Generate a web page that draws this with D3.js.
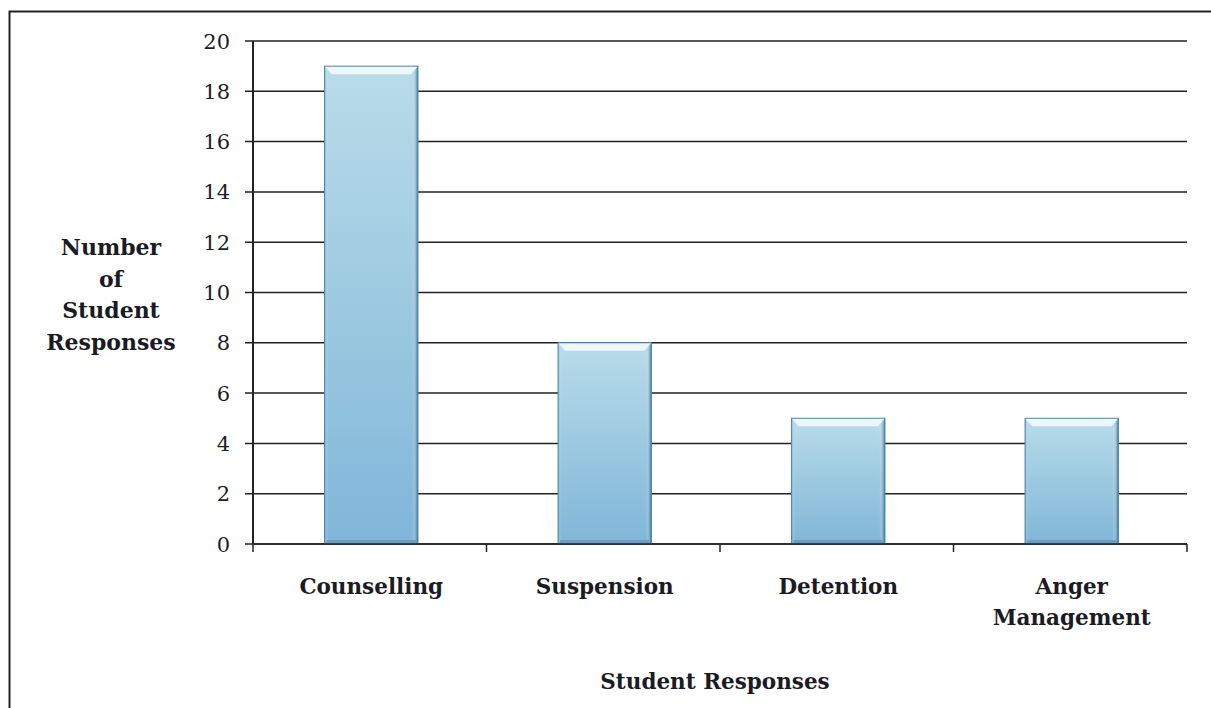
<!DOCTYPE html>
<html>
<head>
<meta charset="utf-8">
<script src="https://cdn.jsdelivr.net/npm/d3@7"></script>
<style>
    body { margin: 0; background: #fff; }
    svg { display: block; }
</style>
</head>
<body>
<div id="chart"></div>
<script>
const categories = ["Counselling", "Suspension", "Detention", "Anger Management"];
const responses = [19, 8, 5, 5];
const yTicks = [0, 2, 4, 6, 8, 10, 12, 14, 16, 18, 20];

const width = 1211;
const height = 708;
const margin = { top: 41, right: 24, bottom: 164, left: 253 };
const serif = "'DejaVu Serif', 'Liberation Serif', serif";

const svg = d3.select("#chart")
    .append("svg")
    .attr("width", width)
    .attr("height", height)
    .attr("viewBox", [0, 0, width, height]);

// frame on the top and left only, like the scanned page
svg.append("path")
    .attr("d", `M9.5,${height} V11.5 H${width}`)
    .attr("fill", "none")
    .attr("stroke", "#222")
    .attr("stroke-width", 2);

let x = d3.scaleBand()
    .domain(categories)
    .range([margin.left, width - margin.right])
    .paddingInner(0.6)
    .paddingOuter(0.3);

let y = d3.scaleLinear()
    .domain([0, 20])
    .range([height - margin.bottom, margin.top]);

const defs = svg.append("defs");
const grad = defs.append("linearGradient")
    .attr("id", "barFill")
    .attr("x1", 0).attr("y1", 0).attr("x2", 0).attr("y2", 1);
grad.append("stop").attr("offset", "0%").attr("stop-color", "#b9dce9");
grad.append("stop").attr("offset", "100%").attr("stop-color", "#80b6d8");

const sideGrad = defs.append("linearGradient")
    .attr("id", "barSide")
    .attr("x1", 0).attr("y1", 0).attr("x2", 1).attr("y2", 0);
sideGrad.append("stop").attr("offset", "0%").attr("stop-color", "#5d9cc4").attr("stop-opacity", 0.5);
sideGrad.append("stop").attr("offset", "4%").attr("stop-color", "#ffffff").attr("stop-opacity", 0);
sideGrad.append("stop").attr("offset", "94%").attr("stop-color", "#ffffff").attr("stop-opacity", 0);
sideGrad.append("stop").attr("offset", "100%").attr("stop-color", "#2c6690").attr("stop-opacity", 0.9);

// horizontal gridlines with small outward ticks
svg.append("g")
    .selectAll("line")
    .data(yTicks)
    .join("line")
    .attr("x1", margin.left - 8)
    .attr("x2", width - margin.right)
    .attr("y1", d => y(d))
    .attr("y2", d => y(d))
    .attr("stroke", "#222")
    .attr("stroke-width", 1.5);

// y axis line
svg.append("line")
    .attr("x1", margin.left)
    .attr("x2", margin.left)
    .attr("y1", y(20))
    .attr("y2", y(0))
    .attr("stroke", "#222")
    .attr("stroke-width", 2);

// tick labels
svg.append("g")
    .selectAll("text")
    .data(yTicks)
    .join("text")
    .attr("x", margin.left - 23)
    .attr("y", d => y(d))
    .attr("dy", "0.36em")
    .attr("text-anchor", "end")
    .attr("font-family", serif)
    .attr("font-size", 21)
    .attr("fill", "#1e1e24")
    .text(d => d);

// category boundary ticks below the x axis
let bounds = categories.map(c => x(c) - x.step() * x.paddingInner() / 2);
bounds.push(width - margin.right);
svg.append("g")
    .selectAll("line")
    .data(bounds)
    .join("line")
    .attr("x1", d => d)
    .attr("x2", d => d)
    .attr("y1", y(0))
    .attr("y2", y(0) + 8)
    .attr("stroke", "#222")
    .attr("stroke-width", 1.5);

// bars
const bars = svg.append("g")
    .attr("transform", "translate(1.5,0)")
    .selectAll("g")
    .data(categories.map((c, i) => ({ c, v: responses[i] })))
    .join("g");

bars.append("rect")
    .attr("x", d => x(d.c))
    .attr("y", d => y(d.v))
    .attr("width", x.bandwidth())
    .attr("height", d => y(0) - y(d.v))
    .attr("fill", "url(#barFill)");

bars.append("rect")
    .attr("x", d => x(d.c))
    .attr("y", d => y(d.v))
    .attr("width", x.bandwidth())
    .attr("height", d => y(0) - y(d.v))
    .attr("fill", "url(#barSide)");

// bevel highlight on the top of each bar
bars.append("path")
    .attr("d", d => {
        let x0 = x(d.c), x1 = x0 + x.bandwidth(), t = y(d.v);
        return `M${x0},${t} H${x1} L${x1 - 7},${t + 8} H${x0 + 7} Z`;
    })
    .attr("fill", "#eef7fb");

// darker bottom band
bars.append("rect")
    .attr("x", d => x(d.c) + 2)
    .attr("y", y(0) - 4)
    .attr("width", x.bandwidth() - 4)
    .attr("height", 4)
    .attr("fill", "#6a9fc2");

bars.append("rect")
    .attr("x", d => x(d.c))
    .attr("y", d => y(d.v))
    .attr("width", x.bandwidth())
    .attr("height", d => y(0) - y(d.v))
    .attr("fill", "none")
    .attr("stroke", "#4d86ad")
    .attr("stroke-width", 1);

// x axis line on top of bars
svg.append("line")
    .attr("x1", margin.left)
    .attr("x2", width - margin.right)
    .attr("y1", y(0))
    .attr("y2", y(0))
    .attr("stroke", "#222")
    .attr("stroke-width", 1.5);

// category labels
const catLabels = [["Counselling"], ["Suspension"], ["Detention"], ["Anger", "Management"]];
svg.append("g")
    .selectAll("text")
    .data(categories)
    .join("text")
    .attr("x", d => x(d) + x.bandwidth() / 2 + 1.5)
    .attr("y", 594)
    .attr("text-anchor", "middle")
    .attr("font-family", serif)
    .attr("font-weight", "bold")
    .attr("font-size", 21.5)
    .attr("fill", "#1b1b24")
    .each(function (d, i) {
        d3.select(this).selectAll("tspan")
            .data(catLabels[i])
            .join("tspan")
            .attr("x", x(d) + x.bandwidth() / 2 + 1.5)
            .attr("dy", (_, j) => j === 0 ? 0 : 31)
            .text(t => t);
    });

// x axis title
svg.append("text")
    .attr("x", 715)
    .attr("y", 689)
    .attr("text-anchor", "middle")
    .attr("font-family", serif)
    .attr("font-weight", "bold")
    .attr("font-size", 21.5)
    .attr("fill", "#1b1b24")
    .text("Student Responses");

// y axis title, stacked
const yTitle = ["Number", "of", "Student", "Responses"];
svg.append("text")
    .attr("text-anchor", "middle")
    .attr("font-family", serif)
    .attr("font-weight", "bold")
    .attr("font-size", 22)
    .attr("fill", "#1b1b24")
    .selectAll("tspan")
    .data(yTitle)
    .join("tspan")
    .attr("x", 111)
    .attr("y", (_, i) => 255 + i * 31.5)
    .text(d => d);
</script>
</body>
</html>
